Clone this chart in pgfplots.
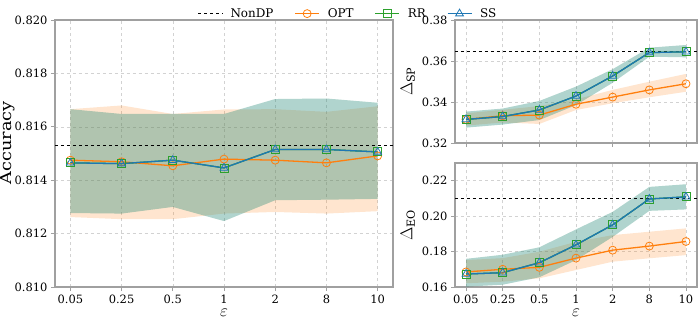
\documentclass[border=0pt]{standalone}
\usepackage{fontspec}
\setmainfont{DejaVu Serif}
\usepackage{pgfplots}
\pgfplotsset{compat=1.18}
\definecolor{cOPT}{HTML}{FF7F0E}
\definecolor{cRR}{HTML}{2CA02C}
\definecolor{cSS}{HTML}{1F77B4}
\definecolor{spine}{HTML}{A0A0A0}
\pgfplotsset{
  myax/.style={
    scale only axis,
    xmin=-0.3, xmax=6.3,
    xtick={0,...,6},
    xticklabels={0.05,0.25,0.5,1,2,8,10},
    grid=major,
    major grid style={dashed, gray!35, line width=0.5pt},
    axis line style={spine, line width=1.2pt},
    tick style={spine, line width=0.8pt},
    tick align=outside,
    xtick pos=bottom, ytick pos=left,
    major tick length=4bp,
    tick label style={font=\fontsize{11.5}{13}\selectfont},
    label style={font=\fontsize{16}{18}\selectfont},
    xlabel style={yshift=1bp},
    /pgf/number format/assume math mode=true,
    /pgf/number format/fixed,
    /pgf/number format/fixed zerofill,
    legend style={draw=none, fill=none, font=\fontsize{12}{14}\selectfont},
  },
  bandO/.style={fill=cOPT, fill opacity=0.2, draw=none, forget plot},
  bandR/.style={fill=cRR, fill opacity=0.2, draw=none, forget plot},
  bandS/.style={fill=cSS, fill opacity=0.2, draw=none, forget plot},
  lineO/.style={color=cOPT, line width=1.3pt, mark=o, mark size=4bp, mark options={solid, line width=0.8pt, draw=cOPT}},
  lineR/.style={color=cRR, line width=1.3pt, mark=square, mark size=4bp, mark options={solid, line width=0.8pt, draw=cRR}},
  lineS/.style={color=cSS, line width=1.3pt, mark=triangle, mark size=4.5bp, mark options={solid, line width=0.8pt, draw=cSS}},
}
\begin{document}
\begin{tikzpicture}
\useasboundingbox (-55bp,-31bp) rectangle (643bp,287bp);
% ---------- Accuracy ----------
\begin{axis}[myax,
  at={(0bp,0bp)}, anchor=south west,
  width=338bp, height=267bp,
  ymin=0.810, ymax=0.820, ytick={0.810,0.812,0.814,0.816,0.818,0.820},
  yticklabel style={/pgf/number format/precision=3},
  ylabel={\scalebox{1.15}[1]{Accuracy}}, xlabel={$\varepsilon$},
  ylabel style={at={(axis description cs:-0.1183,0.54)}, anchor=south, inner sep=0pt,
    font=\fontsize{15.5}{17}\selectfont},
  legend columns=4,
  legend style={at={(0.867,1.0)}, anchor=south, yshift=-3bp,
    /tikz/every even column/.append style={column sep=19bp}},
  legend image code/.code={\draw[mark repeat=2, mark phase=2] plot coordinates {(0bp,0bp) (12bp,0bp) (24bp,0bp)};
    \path (30bp,0bp);},
  legend cell align=left,
]
\addlegendimage{black, dashed, line width=0.8pt}
\addlegendentry{NonDP}
\addlegendimage{lineO}
\addlegendentry{OPT}
\addlegendimage{lineR}
\addlegendentry{RR}
\addlegendimage{lineS}
\addlegendentry{SS}
% OPT band (upper, then lower reversed)
\addplot[bandO] coordinates {(0,0.81666) (1,0.81680) (2,0.81648) (3,0.81665) (4,0.81666) (5,0.81656) (6,0.81677)
  (6,0.81284) (5,0.81275) (4,0.81281) (3,0.81275) (2,0.81254) (1,0.81254) (0,0.81262)} -- cycle;
% RR band
\addplot[bandR] coordinates {(0,0.81666) (1,0.81648) (2,0.81648) (3,0.81648) (4,0.81704) (5,0.81706) (6,0.81690)
  (6,0.81330) (5,0.81327) (4,0.81325) (3,0.81247) (2,0.81300) (1,0.81275) (0,0.81277)} -- cycle;
% SS band
\addplot[bandS] coordinates {(0,0.81666) (1,0.81648) (2,0.81648) (3,0.81648) (4,0.81704) (5,0.81706) (6,0.81690)
  (6,0.81330) (5,0.81327) (4,0.81325) (3,0.81247) (2,0.81300) (1,0.81275) (0,0.81277)} -- cycle;
\addplot[black, dashed, line width=0.8pt, forget plot] coordinates {(-0.3,0.81529) (6.3,0.81529)};
\addplot[lineO, forget plot] coordinates {(0,0.81475) (1,0.81469) (2,0.81454) (3,0.81479) (4,0.81475) (5,0.81465) (6,0.81491)};
\addplot[lineR, forget plot] coordinates {(0,0.81465) (1,0.81462) (2,0.81475) (3,0.81446) (4,0.81515) (5,0.81515) (6,0.81506)};
\addplot[lineS, forget plot] coordinates {(0,0.81465) (1,0.81462) (2,0.81475) (3,0.81446) (4,0.81515) (5,0.81515) (6,0.81506)};
\end{axis}
% ---------- SP ----------
\begin{axis}[myax,
  at={(400bp,144bp)}, anchor=south west,
  width=242bp, height=123bp,
  ymin=0.32, ymax=0.38, ytick={0.32,0.34,0.36,0.38},
  xticklabels={},
  yticklabel style={/pgf/number format/precision=2},
  ylabel={$\Delta_{\mathrm{SP}}$},
]
\addplot[bandO] coordinates {(0,0.3345) (1,0.3362) (2,0.3380) (3,0.3413) (4,0.3459) (5,0.3499) (6,0.3537)
  (6,0.3450) (5,0.3423) (4,0.3394) (3,0.3361) (2,0.3293) (1,0.3300) (0,0.3285)} -- cycle;
\addplot[bandR] coordinates {(0,0.3353) (1,0.3368) (2,0.3405) (3,0.3475) (4,0.3560) (5,0.3665) (6,0.3678)
  (6,0.3618) (5,0.3621) (4,0.3494) (3,0.3385) (2,0.3312) (1,0.3290) (0,0.3275)} -- cycle;
\addplot[bandS] coordinates {(0,0.3353) (1,0.3368) (2,0.3405) (3,0.3475) (4,0.3560) (5,0.3665) (6,0.3678)
  (6,0.3618) (5,0.3621) (4,0.3494) (3,0.3385) (2,0.3312) (1,0.3290) (0,0.3275)} -- cycle;
\addplot[black, dashed, line width=0.8pt] coordinates {(-0.3,0.3647) (6.3,0.3647)};
\addplot[lineO] coordinates {(0,0.3315) (1,0.3333) (2,0.3336) (3,0.3389) (4,0.3424) (5,0.3459) (6,0.3489)};
\addplot[lineR] coordinates {(0,0.3315) (1,0.3329) (2,0.3361) (3,0.3429) (4,0.3527) (5,0.3641) (6,0.3645)};
\addplot[lineS] coordinates {(0,0.3315) (1,0.3329) (2,0.3361) (3,0.3429) (4,0.3527) (5,0.3641) (6,0.3645)};
\end{axis}
% ---------- EO ----------
\begin{axis}[myax,
  at={(400bp,0bp)}, anchor=south west,
  width=242bp, height=124bp,
  ymin=0.16, ymax=0.23, ytick={0.16,0.18,0.20,0.22},
  yticklabel style={/pgf/number format/precision=2},
  ylabel={$\Delta_{\mathrm{EO}}$}, xlabel={$\varepsilon$},
]
\addplot[bandO] coordinates {(0,0.1752) (1,0.1763) (2,0.1799) (3,0.1855) (4,0.1893) (5,0.1912) (6,0.1931)
  (6,0.1780) (5,0.1762) (4,0.1743) (3,0.1696) (2,0.1649) (1,0.1630) (0,0.1621)} -- cycle;
\addplot[bandR] coordinates {(0,0.1759) (1,0.1782) (2,0.1824) (3,0.1925) (4,0.2024) (5,0.2165) (6,0.2180)
  (6,0.2038) (5,0.2030) (4,0.1883) (3,0.1752) (2,0.1655) (1,0.1613) (0,0.1602)} -- cycle;
\addplot[bandS] coordinates {(0,0.1759) (1,0.1782) (2,0.1824) (3,0.1925) (4,0.2024) (5,0.2165) (6,0.2180)
  (6,0.2038) (5,0.2030) (4,0.1883) (3,0.1752) (2,0.1655) (1,0.1613) (0,0.1602)} -- cycle;
\addplot[black, dashed, line width=0.8pt] coordinates {(-0.3,0.2103) (6.3,0.2103)};
\addplot[lineO] coordinates {(0,0.1685) (1,0.1700) (2,0.1711) (3,0.1763) (4,0.1808) (5,0.1831) (6,0.1857)};
\addplot[lineR] coordinates {(0,0.1673) (1,0.1681) (2,0.1737) (3,0.1838) (4,0.1951) (5,0.2097) (6,0.2109)};
\addplot[lineS] coordinates {(0,0.1673) (1,0.1681) (2,0.1737) (3,0.1838) (4,0.1951) (5,0.2097) (6,0.2109)};
\end{axis}
\end{tikzpicture}
\end{document}
